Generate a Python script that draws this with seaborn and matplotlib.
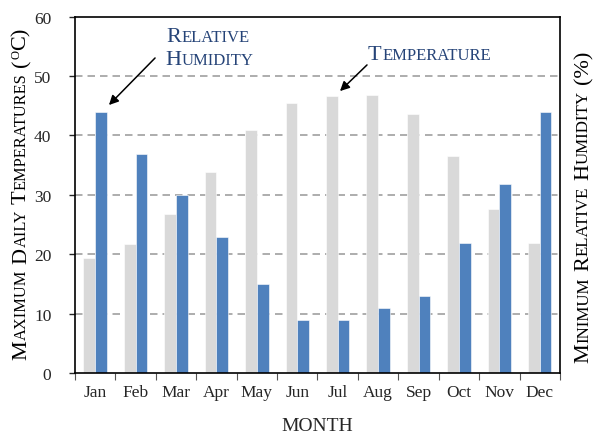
import matplotlib
matplotlib.use("Agg")
import matplotlib.pyplot as plt
from matplotlib.transforms import IdentityTransform
import pandas as pd
import seaborn as sns

months = ["Jan", "Feb", "Mar", "Apr", "May", "Jun",
          "Jul", "Aug", "Sep", "Oct", "Nov", "Dec"]
temperature = [19.4, 21.8, 26.8, 33.9, 40.9, 45.4, 46.6, 46.8, 43.6, 36.6, 27.7, 21.9]
humidity = [43.9, 36.9, 29.9, 22.9, 15.0, 8.9, 8.9, 10.9, 12.9, 21.9, 31.9, 43.9]

gray = "#d9d9d9"
blue = "#4f81bd"
navy = "#264478"

sns.set_style("white")
plt.rcParams["font.family"] = ["Liberation Serif", "DejaVu Serif"]

df = pd.DataFrame({
    "month": months * 2,
    "value": temperature + humidity,
    "series": ["Temperature"] * 12 + ["Humidity"] * 12,
})

fig = plt.figure(figsize=(6, 4.35), dpi=100)
ax = fig.add_axes([0.125, 0.1402, 0.8083, 0.8191])

sns.barplot(data=df, x="month", y="value", hue="series", order=months,
            palette={"Temperature": gray, "Humidity": blue}, saturation=1,
            width=0.58, gap=0, legend=False, ax=ax,
            edgecolor="white", linewidth=0.4)

ax.set_ylim(0, 60)
ax.set_xlim(-0.5, 11.5)
ax.set_yticks(range(0, 61, 10))
ax.set_axisbelow(True)
for v in range(10, 60, 10):
    ax.axhline(v, color="#a0a0a0", lw=1.2, ls=(0, (4.5, 3)), zorder=0)

ax.set_xticks(range(12))
ax.set_xticklabels(months)
ax.set_xticks([i - 0.5 for i in range(13)], minor=True)
ax.tick_params(axis="x", which="major", length=0, pad=8, labelsize=12.5)
ax.tick_params(axis="x", which="minor", length=5, width=0.8, color="#555555",
               direction="out", bottom=True)
ax.tick_params(axis="y", length=4, width=1, left=True, direction="out",
               pad=13, labelsize=12.5)
ax.set_xlabel("")
ax.set_ylabel("")
for s in ax.spines.values():
    s.set_visible(True)
    s.set_color("black")
    s.set_linewidth(1.2)

fig.text(317 / 600, 1 - 427 / 435, "MONTH", ha="center", va="center", fontsize=14)

fig.canvas.draw()
renderer = fig.canvas.get_renderer()


def small_caps(x, y, parts, rotation=0, color="black", align="center"):
    # parts: (text, fontsize, rise in px); None text means a word gap in px
    items = []
    for txt, size, rise in parts:
        if txt is None:
            items.append((None, size, 0))
            continue
        t = fig.text(0, 0, txt, fontsize=size, rotation=rotation,
                     rotation_mode="anchor", ha="left", va="baseline",
                     color=color, transform=IdentityTransform())
        bb = t.get_window_extent(renderer)
        items.append((t, bb.height if rotation == 90 else bb.width, rise))
    total = sum(l for _, l, _ in items)
    pos = -total / 2 if align == "center" else 0
    for t, l, rise in items:
        if t is not None:
            if rotation == 90:
                t.set_position((x - rise, y + pos))
            else:
                t.set_position((x + pos, y + rise))
        pos += l + 0.6


big, small = 16, 11.8
left_parts = [("M", big, 0), ("AXIMUM", small, 0), (None, 4.5, 0),
              ("D", big, 0), ("AILY", small, 0), (None, 4.5, 0),
              ("T", big, 0), ("EMPERATURES", small, 0), (None, 4.5, 0),
              ("(", big, 0), ("O", 9, 6), ("C)", big, 0)]
small_caps(26, 435 - 197, left_parts, rotation=90)

big, small = 16, 12.2
right_parts = [("M", big, 0), ("INIMUM", small, 0), (None, 5, 0),
               ("R", big, 0), ("ELATIVE", small, 0), (None, 5, 0),
               ("H", big, 0), ("UMIDITY", small, 0), (None, 5, 0),
               ("(%)", big, 0)]
small_caps(588, 435 - 210, right_parts, rotation=90)

small_caps(166, 435 - 41.7, [("R", 16, 0), ("ELATIVE", 12, 0)],
           color=navy, align="left")
small_caps(165, 435 - 65, [("H", 16, 0), ("UMIDITY", 12, 0)],
           color=navy, align="left")
small_caps(368, 435 - 60, [("T", 16, 0), ("EMPERATURE", 12, 0)],
           color=navy, align="left")

arrow = dict(arrowstyle="-|>", color="black", lw=1.1, mutation_scale=14)
ax.annotate("", xy=(107, 435 - 108), xycoords="figure pixels",
            xytext=(157, 435 - 57), textcoords="figure pixels", arrowprops=arrow)
ax.annotate("", xy=(338, 435 - 94), xycoords="figure pixels",
            xytext=(369, 435 - 64), textcoords="figure pixels", arrowprops=arrow)

fig.savefig("out.png", dpi=100)
